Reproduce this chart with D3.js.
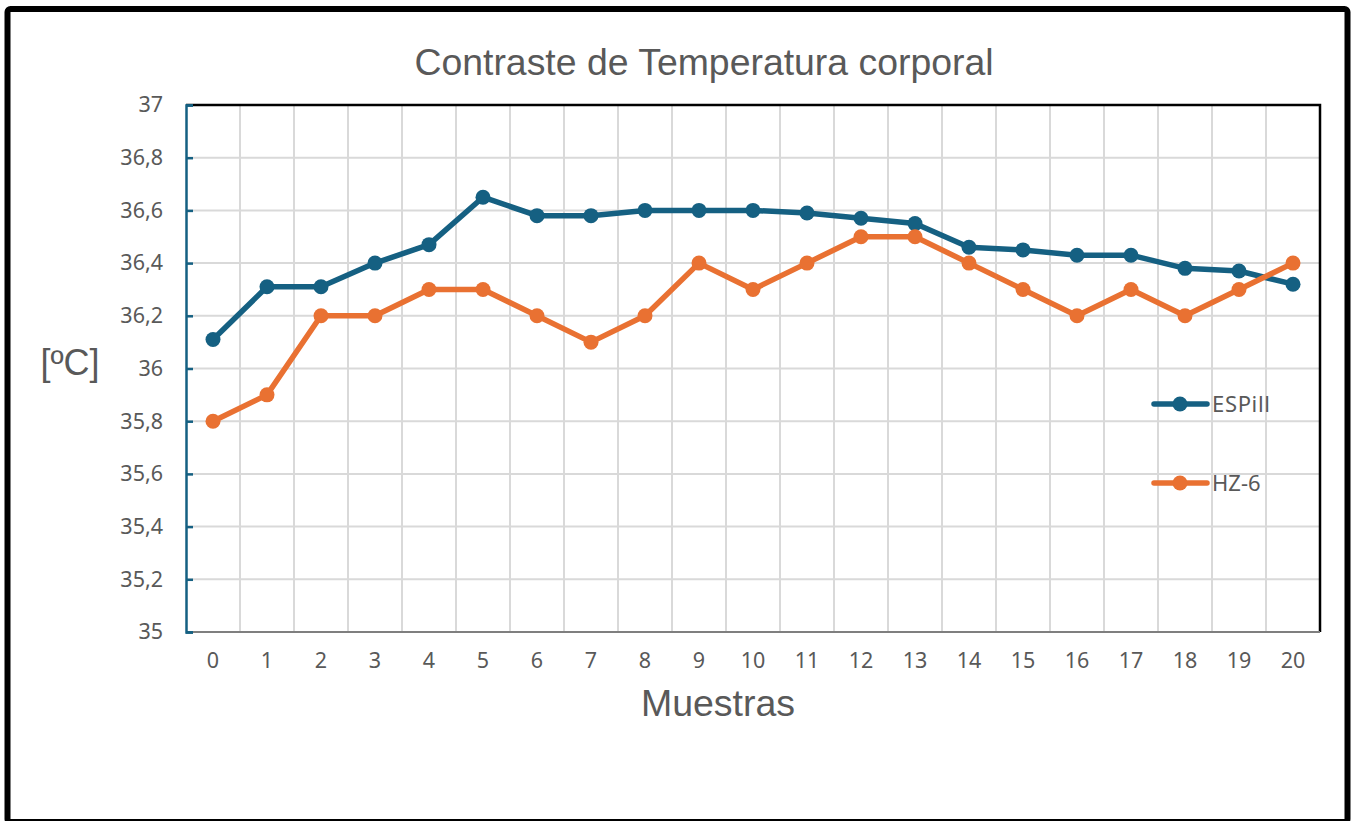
<!DOCTYPE html>
<html><head><meta charset="utf-8">
<script src="https://cdn.jsdelivr.net/npm/d3@7/dist/d3.min.js"></script>
<style>body{margin:0;background:#fff;}svg{display:block;}</style>
</head><body>
<svg id="c" width="1356" height="821"></svg>
<script>
const categories = d3.range(0, 21).map(String);
const espill = [36.11,36.31,36.31,36.40,36.47,36.65,36.58,36.58,36.60,36.60,36.60,36.59,36.57,36.55,36.46,36.45,36.43,36.43,36.38,36.37,36.32];
const hz6 = [35.8,35.9,36.2,36.2,36.3,36.3,36.2,36.1,36.2,36.4,36.3,36.4,36.5,36.5,36.4,36.3,36.2,36.3,36.2,36.3,36.4];
const yTicks = [35,35.2,35.4,35.6,35.8,36,36.2,36.4,36.6,36.8,37];
const series = [
  {name:"ESPill", values: espill, color:"#156082"},
  {name:"HZ-6", values: hz6, color:"#E97132"}
];
const title = "Contraste de Temperatura corporal";
const xTitle = "Muestras";
const yTitle = "[ºC]";

const svg = d3.select("#c");
const L = 186, R = 1320, T = 105, B = 632;
const x = d3.scaleBand().domain(categories).range([L, R]);
const y = d3.scaleLinear().domain([35, 37]).range([B, T]);
const grey = "#595959";
const tickFont = "'Noto Sans', 'Liberation Sans', sans-serif";
const titleFont = "'Liberation Sans', Arial, sans-serif";

// outer frame
svg.append("rect").attr("x", 7.5).attr("y", 9).attr("width", 1340).attr("height", 813)
  .attr("rx", 3).attr("fill", "#fff").attr("stroke", "#000").attr("stroke-width", 6);

// gridlines
const g = svg.append("g");
g.selectAll("line.h").data(yTicks.slice(1)).join("line")
  .attr("x1", L).attr("x2", R).attr("y1", d => y(d)).attr("y2", d => y(d))
  .attr("stroke", "#d9d9d9").attr("stroke-width", 2);
g.selectAll("line.v").data(categories.slice(1)).join("line")
  .attr("x1", d => x(d)).attr("x2", d => x(d)).attr("y1", T).attr("y2", B)
  .attr("stroke", "#d9d9d9").attr("stroke-width", 2);

// top & right border
svg.append("path").attr("d", `M${L},${T}H${R}V${B}`).attr("fill", "none")
  .attr("stroke", "#000").attr("stroke-width", 2.5);
// bottom axis
svg.append("line").attr("x1", L).attr("x2", R).attr("y1", B).attr("y2", B)
  .attr("stroke", "#7f7f7f").attr("stroke-width", 2);

// y axis
const yAxis = svg.append("g").attr("transform", `translate(${L},0)`)
  .call(d3.axisLeft(y).tickValues(yTicks).tickSize(-7).tickPadding(23)
    .tickFormat(d => d3.format("~g")(d).replace(".", ",")));
yAxis.select(".domain").attr("stroke", "#156082").attr("stroke-width", 2.5);
yAxis.selectAll(".tick line").attr("stroke", "#156082").attr("stroke-width", 2.5);
yAxis.selectAll("text").attr("fill", grey).style("font-family", tickFont).style("font-size", "21.5px");

// x axis
const xAxis = svg.append("g").attr("transform", `translate(0,${B})`)
  .call(d3.axisBottom(x).tickSize(0).tickPadding(21));
xAxis.select(".domain").remove();
xAxis.selectAll("text").attr("fill", grey).style("font-family", tickFont).style("font-size", "21.5px");

// lines
const line = d3.line().x((d, i) => x(categories[i]) + x.bandwidth() / 2).y(d => y(d));
series.forEach(s => {
  svg.append("path").datum(s.values).attr("d", line).attr("fill", "none")
    .attr("stroke", s.color).attr("stroke-width", 5.5).attr("stroke-linejoin", "round");
  svg.selectAll(null).data(s.values).join("circle")
    .attr("cx", (d, i) => x(categories[i]) + x.bandwidth() / 2).attr("cy", d => y(d))
    .attr("r", 7.5).attr("fill", s.color);
});

// legend
const legY = [404, 483];
series.forEach((s, i) => {
  const lg = svg.append("g");
  lg.append("line").attr("x1", 1154).attr("x2", 1207).attr("y1", legY[i]).attr("y2", legY[i])
    .attr("stroke", s.color).attr("stroke-width", 5.5).attr("stroke-linecap", "round");
  lg.append("circle").attr("cx", 1180).attr("cy", legY[i]).attr("r", 7.5).attr("fill", s.color);
  lg.append("text").attr("x", 1212).attr("y", legY[i]).attr("dy", "0.36em").text(s.name)
    .attr("fill", grey).style("font-family", tickFont).style("font-size", "22px")
    .attr("textLength", i === 0 ? 58 : null);
});

// titles
svg.append("text").attr("x", 704).attr("y", 75).attr("text-anchor", "middle").text(title)
  .attr("fill", grey).style("font-family", titleFont).style("font-size", "37.4px");
svg.append("text").attr("x", 718).attr("y", 716).attr("text-anchor", "middle").text(xTitle)
  .attr("fill", grey).style("font-family", titleFont).style("font-size", "37.5px");
svg.append("text").attr("x", 70).attr("y", 375).attr("text-anchor", "middle").text(yTitle)
  .attr("fill", grey).style("font-family", titleFont).style("font-size", "36px");
</script>
</body></html>
